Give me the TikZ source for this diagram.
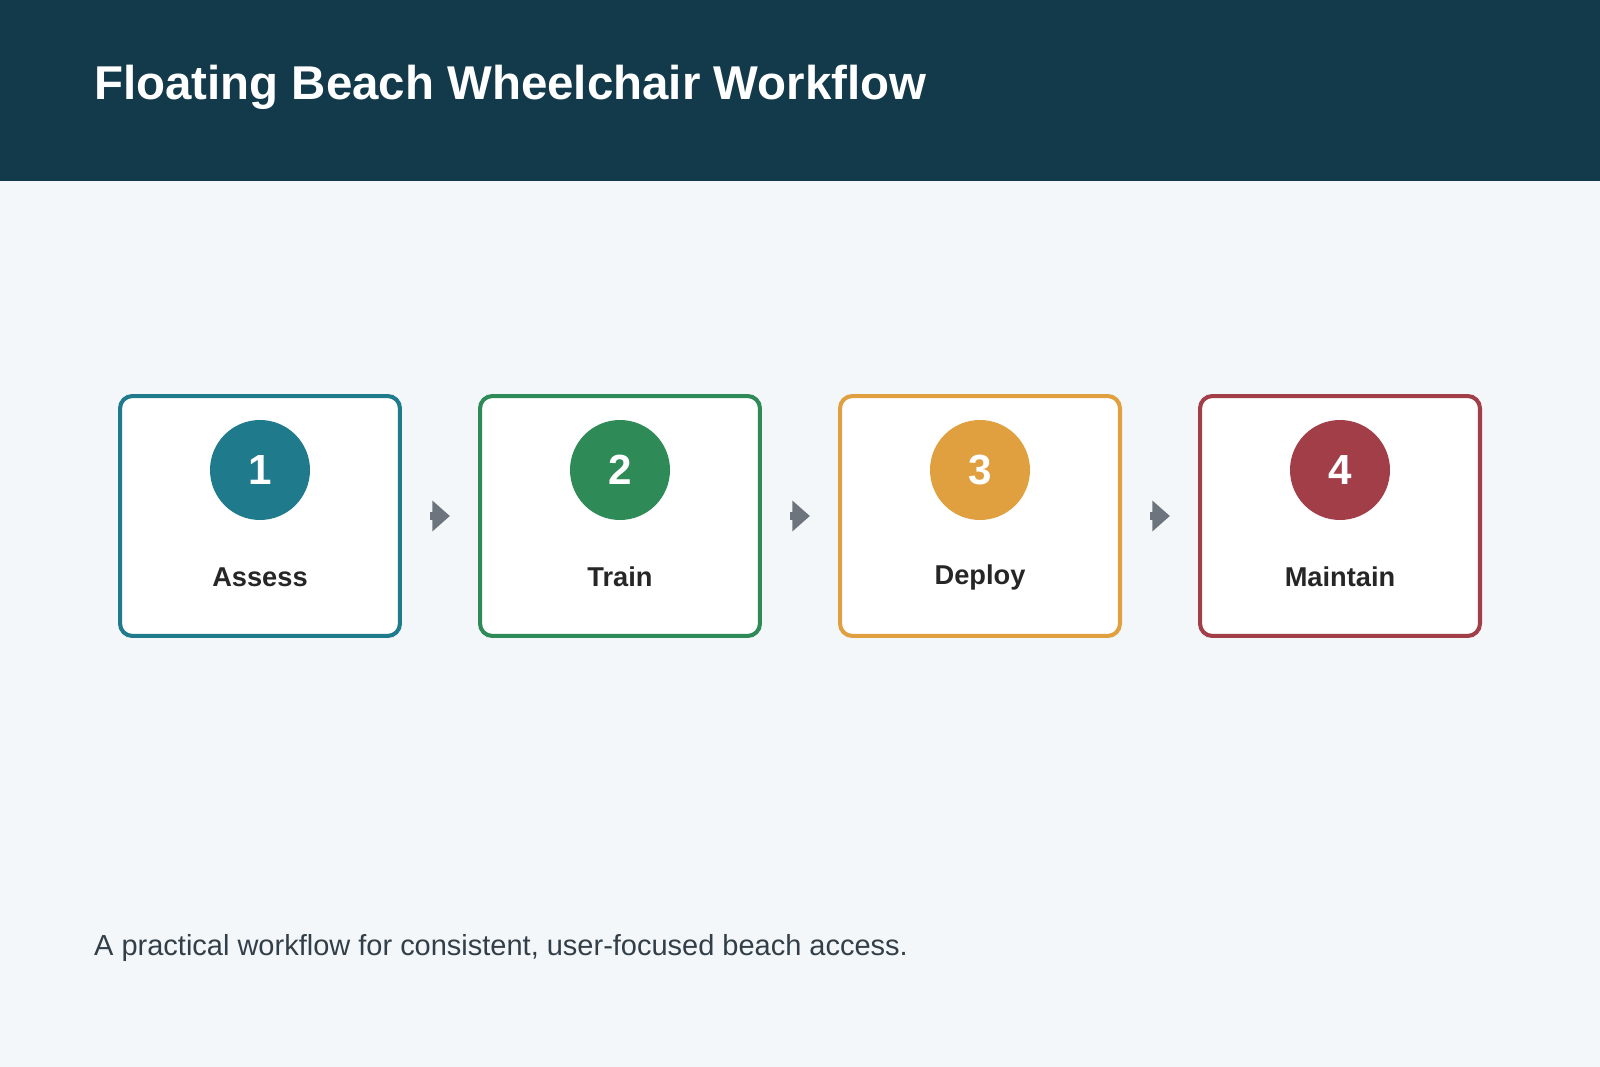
\documentclass[tikz,border=0pt]{standalone}
\usepackage{fontspec}
\setmainfont{Liberation Sans}
\usetikzlibrary{arrows.meta,positioning}
\definecolor{headbg}{HTML}{133A4A}
\definecolor{pagebg}{HTML}{F4F7FA}
\definecolor{arrowgray}{HTML}{6C757D}
\definecolor{captiongray}{HTML}{333F48}
\definecolor{stepA}{HTML}{1F7A8C}
\definecolor{stepB}{HTML}{2E8B57}
\definecolor{stepC}{HTML}{E0A040}
\definecolor{stepD}{HTML}{A23E48}
\tikzset{
  step/.style={draw=#1,line width=2.3pt,rounded corners=7pt,fill=white,minimum width=5.6cm,minimum height=4.8cm},
  badge/.style={circle,fill=#1,minimum size=2cm,inner sep=0pt,text=white,font=\bfseries\fontsize{24}{28}\selectfont},
  steplabel/.style={font=\bfseries\fontsize{15.5}{18}\selectfont,text=black!85},
  flow/.style={draw=arrowgray,line width=4.5pt,-{Triangle[length=10pt,width=17pt]}}
}
\begin{document}
\begin{tikzpicture}[x=0.02cm,y=-0.02cm]
\useasboundingbox (0,0) rectangle (1600,1067);
\fill[pagebg] (0,0) rectangle (1600,1067);
\fill[headbg] (0,0) rectangle (1600,181);
\node[anchor=west,text=white,font=\bfseries\fontsize{27}{32}\selectfont] (title) at (88,87) {Floating Beach Wheelchair Workflow};
% steps
\node[step=stepA] (s1) at (260,516) {};
\node[step=stepB] (s2) at (620,516) {};
\node[step=stepC] (s3) at (980,516) {};
\node[step=stepD] (s4) at (1340,516) {};
\node[badge=stepA] (n1) at (260,470) {1};
\node[badge=stepB] (n2) at (620,470) {2};
\node[badge=stepC] (n3) at (980,470) {3};
\node[badge=stepD] (n4) at (1340,470) {4};
\node[steplabel] (l1) at (260,577) {Assess};
\node[steplabel] (l2) at (620,577) {Train};
\node[steplabel] (l3) at (980,577) {Deploy};
\node[steplabel] (l4) at (1340,577) {Maintain};
% arrows
\draw[flow] ([xshift=16pt]s1.east) -- ([xshift=-16pt]s2.west);
\draw[flow] ([xshift=16pt]s2.east) -- ([xshift=-16pt]s3.west);
\draw[flow] ([xshift=16pt]s3.east) -- ([xshift=-16pt]s4.west);
\node[anchor=west,text=captiongray,font=\fontsize{16.5}{20}\selectfont] (caption) at (88,948) {A practical workflow for consistent, user-focused beach access.};
\end{tikzpicture}
\end{document}
